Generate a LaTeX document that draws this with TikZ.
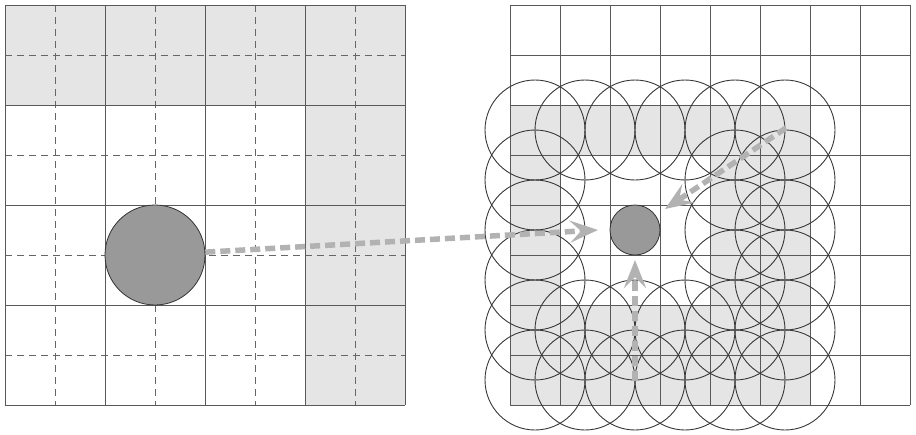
\documentclass[tikz,border=0pt]{standalone}
\usetikzlibrary{arrows.meta}
\begin{document}
\begin{tikzpicture}[x=1pt,y=-1pt,
  gridline/.style={draw=black!65, line width=0.8pt},
  dashline/.style={draw=black!60, line width=0.7pt, dash pattern=on 7pt off 5pt},
  shaded/.style={fill=black!10},
  ring/.style={draw=black!78, line width=0.9pt},
  dot/.style={circle, draw=black!80, line width=0.8pt, fill=black!40, inner sep=0pt},
  mover/.style={draw=black!30, line width=5.5pt, dash pattern=on 10pt off 5pt,
    -{Stealth[length=28pt,width=22pt,inset=11pt]}}]
\useasboundingbox (0,0) rectangle (916,434);
% ---------- left grid ----------
\fill[shaded] (5,5) rectangle (405,105);
\fill[shaded] (305,105) rectangle (405,405);
\foreach \v in {55,155,255,355} {
  \draw[dashline] (\v,5) -- (\v,405);
  \draw[dashline] (5,\v) -- (405,\v);
}
\foreach \v in {5,105,205,305,405} {
  \draw[gridline] (\v,5) -- (\v,405);
  \draw[gridline] (5,\v) -- (405,\v);
}
\node[dot, minimum size=100pt] (bigdot) at (155,255) {};
% ---------- right grid ----------
\fill[shaded] (510,105) -- (810,105) -- (810,405) -- (510,405) -- cycle
  (560,155) -- (560,305) -- (710,305) -- (710,155) -- cycle;
\foreach \v in {510,560,...,910} {
  \draw[gridline] (\v,5) -- (\v,405);
}
\foreach \v in {5,55,...,405} {
  \draw[gridline] (510,\v) -- (910,\v);
}
\foreach \cx in {535,585,...,785} { \draw[ring] (\cx,130) circle[radius=50pt]; }
\foreach \cy in {180,230,...,380} {
  \draw[ring] (535,\cy) circle[radius=50pt];
  \draw[ring] (735,\cy) circle[radius=50pt];
  \draw[ring] (785,\cy) circle[radius=50pt];
}
\foreach \cx in {585,635,685} {
  \draw[ring] (\cx,330) circle[radius=50pt];
  \draw[ring] (\cx,380) circle[radius=50pt];
}
\node[dot, minimum size=50pt] (smalldot) at (635,230) {};
% ---------- moves ----------
\coordinate (tipA) at (598,230);
\coordinate (startB) at (786,128);
\coordinate (tipB) at (665,209);
\coordinate (startC) at (635,381);
\coordinate (tipC) at (635,260);
\draw[mover] (bigdot) -- (tipA);
\draw[mover] (startB) -- (tipB);
\draw[mover] (startC) -- (tipC);
\end{tikzpicture}
\end{document}
